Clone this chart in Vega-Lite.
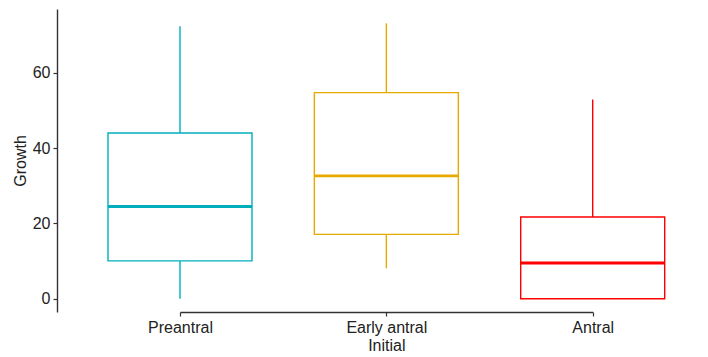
{
  "$schema": "https://vega.github.io/schema/vega-lite/v6.json",
  "width": 651,
  "height": 303,
  "autosize": {"type": "none"},
  "padding": {"left": 57, "top": 9, "right": 0, "bottom": 45},
  "background": "white",
  "config": {
    "view": {"stroke": null},
    "font": "Liberation Sans"
  },
  "data": {
    "values": [
      {"Initial": "Preantral", "min": 0, "q1": 10.06, "median": 24.5, "q3": 44.0, "max": 72.3},
      {"Initial": "Early antral", "min": 8.1, "q1": 17.1, "median": 32.6, "q3": 54.7, "max": 73.1},
      {"Initial": "Antral", "min": 0, "q1": 0, "median": 9.5, "q3": 21.7, "max": 52.9}
    ]
  },
  "encoding": {
    "x": {
      "field": "Initial",
      "type": "nominal",
      "sort": ["Preantral", "Early antral", "Antral"],
      "scale": {"type": "point", "range": [123, 535.7], "padding": 0},
      "axis": {
        "title": "Initial",
        "labelAngle": 0,
        "labelFontSize": 16,
        "labelColor": "#222222",
        "labelPadding": 3,
        "titleFontSize": 16,
        "titleFontWeight": "normal",
        "titleColor": "#222222",
        "titlePadding": 2,
        "domainColor": "#333333",
        "domainWidth": 1.4,
        "tickColor": "#333333",
        "tickWidth": 1.2,
        "tickSize": 4,
        "grid": false
      }
    }
  },
  "layer": [
    {
      "mark": {"type": "rule", "strokeWidth": 1.4},
      "encoding": {
        "y": {
          "field": "min",
          "type": "quantitative",
          "scale": {"domain": [-3.5, 76.9], "nice": false, "zero": false},
          "axis": {
            "title": "Growth",
            "values": [0, 20, 40, 60],
            "labelFontSize": 16,
            "labelColor": "#222222",
            "labelPadding": 3,
            "titleFontSize": 16,
            "titleFontWeight": "normal",
            "titleColor": "#222222",
            "titlePadding": 4,
            "domainColor": "#333333",
            "domainWidth": 1.4,
            "tickColor": "#333333",
            "tickWidth": 1.2,
            "tickSize": 4,
            "grid": false
          }
        },
        "y2": {"field": "q1"},
        "color": {
          "field": "Initial",
          "type": "nominal",
          "scale": {"domain": ["Preantral", "Early antral", "Antral"], "range": ["#00AFBB", "#E7A800", "#FF0000"]},
          "legend": null
        }
      }
    },
    {
      "mark": {"type": "rule", "strokeWidth": 1.4},
      "encoding": {
        "y": {"field": "q3", "type": "quantitative"},
        "y2": {"field": "max"},
        "color": {"field": "Initial", "type": "nominal", "legend": null}
      }
    },
    {
      "mark": {"type": "bar", "width": 144, "fill": "white", "strokeWidth": 1.4},
      "encoding": {
        "y": {"field": "q1", "type": "quantitative"},
        "y2": {"field": "q3"},
        "stroke": {
          "field": "Initial",
          "type": "nominal",
          "scale": {"domain": ["Preantral", "Early antral", "Antral"], "range": ["#00AFBB", "#E7A800", "#FF0000"]},
          "legend": null
        }
      }
    },
    {
      "mark": {"type": "tick", "size": 144, "thickness": 2.8, "opacity": 1},
      "encoding": {
        "y": {"field": "median", "type": "quantitative"},
        "color": {"field": "Initial", "type": "nominal", "legend": null}
      }
    }
  ]
}
